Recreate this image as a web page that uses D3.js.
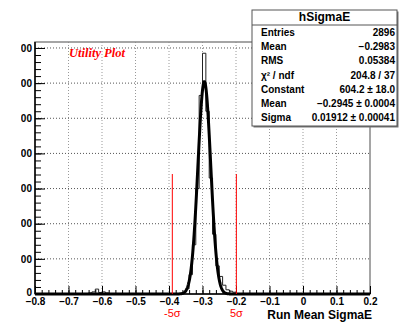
<!DOCTYPE html>
<html><head><meta charset="utf-8">
<script src="https://cdn.jsdelivr.net/npm/d3@7"></script>
<style>body{margin:0;background:#fff}svg{display:block}</style>
</head><body>
<svg id="c" width="399" height="322"></svg>
<script>
// ---- data ----
const binEdgesLow = [-0.64,-0.63,-0.62,-0.61,-0.60,-0.59,
  -0.37,-0.36,-0.35,-0.34,-0.33,-0.32,-0.31,-0.30,-0.29,-0.28,-0.27,-0.26,-0.25,-0.24,-0.23,-0.22,-0.21];
const binCounts = [3,6,14,4,6,3,
  1,4,15,55,140,300,565,685,520,330,170,80,50,25,12,8,5];
const binWidth = 0.01;
const fitConstant = 604.2, fitMean = -0.2945, fitSigma = 0.01912;
const xTicks = [-0.8,-0.7,-0.6,-0.5,-0.4,-0.3,-0.2,-0.1,0,0.1,0.2];
const xTickLabels = ["\u22120.8","\u22120.7","\u22120.6","\u22120.5","\u22120.4","\u22120.3","\u22120.2","\u22120.1","0","0.1","0.2"];
const yTicks = [0,100,200,300,400,500,600,700];
const yTickLabels = ["0","100","200","300","400","500","600","700"];
const sigmaLines = [fitMean - 5*fitSigma, fitMean + 5*fitSigma];
const sigmaLabels = ["-5\u03c3","5\u03c3"];
const statsTitle = "hSigmaE";
const statsNames = ["Entries","Mean","RMS","\u03c7\u00b2 / ndf","Constant","Mean","Sigma"];
const statsValues = ["2896","\u22120.2983","0.05384","204.8 / 37","604.2 \u00b1 18.0","\u22120.2945 \u00b1 0.0004","0.01912 \u00b1 0.00041"];

// ---- layout ----
const L=35,R=370,T=42,B=294;
const svg=d3.select("#c");
const x=d3.scaleLinear().domain([-0.8,0.2]).range([L,R]);
const y=d3.scaleLinear().domain([0,717]).range([B,T]);
const sans="'Liberation Sans',Arial,Helvetica,sans-serif";

// grid
const g=svg.append("g");
g.selectAll(".vg").data(xTicks.slice(1,-1)).join("line")
  .attr("x1",d=>x(d)).attr("x2",d=>x(d)).attr("y1",T).attr("y2",B)
  .attr("stroke","#999").attr("stroke-dasharray","1,2").attr("stroke-width",1);
g.selectAll(".hg").data(yTicks.slice(1)).join("line")
  .attr("x1",L).attr("x2",R).attr("y1",d=>y(d)).attr("y2",d=>y(d))
  .attr("stroke","#555").attr("stroke-dasharray","1,2").attr("stroke-width",1);

// frame
svg.append("rect").attr("x",L).attr("y",T).attr("width",R-L).attr("height",B-T)
  .attr("fill","none").attr("stroke","#888").attr("stroke-width",1.5);

// histogram step path over full range
const nb=100, bins=new Array(nb).fill(0);
binEdgesLow.forEach((e,i)=>{const k=Math.round((e+0.8)/binWidth); bins[k]=binCounts[i];});
let pts=[[x(-0.8),y(0)]];
for(let k=0;k<nb;k++){const x0=x(-0.8+k*binWidth),x1=x(-0.8+(k+1)*binWidth);pts.push([x0,y(bins[k])],[x1,y(bins[k])]);}
pts.push([x(0.2),y(0)]);
svg.append("path").attr("d",d3.line()(pts)).attr("fill","none").attr("stroke","#222").attr("stroke-width",1);

// fit curve (gaussian from fit parameters)
const fx=d3.range(-0.8,0.2001,0.001);
svg.append("path").attr("d",d3.line().x(d=>x(d)).y(d=>y(fitConstant*Math.exp(-0.5*((d-fitMean)/fitSigma)**2)))(fx))
  .attr("fill","none").attr("stroke","#000").attr("stroke-width",3);

// axes
const xMinor=d3.range(0,51).map(i=>-0.8+i*0.02);
svg.append("g").attr("transform",`translate(0,${B})`)
  .call(d3.axisBottom(x).tickValues(xMinor).tickSize(-4).tickFormat(""))
  .call(a=>a.select(".domain").remove());
svg.append("g").attr("transform",`translate(0,${B})`)
  .call(d3.axisBottom(x).tickValues(xTicks).tickSize(-8).tickPadding(4).tickFormat((d,i)=>xTickLabels[i]))
  .call(a=>a.select(".domain").remove())
  .call(a=>a.selectAll("text").attr("font-family",sans).attr("font-weight","bold").attr("font-size","10px").attr("fill","#000"));
const yMinor=d3.range(0,36).map(i=>i*20);
svg.append("g").attr("transform",`translate(${L},0)`)
  .call(d3.axisLeft(y).tickValues(yMinor).tickSize(-6).tickFormat(""))
  .call(a=>a.select(".domain").remove());
svg.append("defs").append("clipPath").attr("id","yc").append("rect").attr("x",-14).attr("y",0).attr("width",60).attr("height",322);
svg.append("g").attr("transform",`translate(${L},0)`).attr("clip-path","url(#yc)")
  .call(d3.axisLeft(y).tickValues(yTicks).tickSize(-10).tickPadding(3).tickFormat((d,i)=>yTickLabels[i]))
  .call(a=>a.select(".domain").remove())
  .call(a=>a.selectAll("text").attr("font-family",sans).attr("font-weight","bold").attr("font-size","10px").attr("fill","#000")
    .attr("dy",(d)=>d===0?"0.1em":"0.32em"));
svg.append("line").attr("x1",L).attr("x2",L).attr("y1",T).attr("y2",B).attr("stroke","#000").attr("stroke-width",1.5);
svg.append("line").attr("x1",L).attr("x2",R).attr("y1",B).attr("y2",B).attr("stroke","#000").attr("stroke-width",1.5);

// sigma lines
svg.selectAll(".sl").data(sigmaLines).join("line")
  .attr("x1",d=>x(d)).attr("x2",d=>x(d)).attr("y1",174).attr("y2",B).attr("stroke","#f00").attr("stroke-width",1);
svg.selectAll(".st").data(sigmaLines).join("text")
  .attr("x",d=>x(d)).attr("y",317).attr("text-anchor","middle").attr("fill","#f00")
  .attr("font-family",sans).attr("font-size","11px").text((d,i)=>sigmaLabels[i]);

// axis title
svg.append("text").attr("x",372).attr("y",319).attr("text-anchor","end")
  .attr("font-family",sans).attr("font-weight","bold").attr("font-size","12px").text("Run Mean SigmaE");

// utility plot label
svg.append("text").attr("x",69).attr("y",57).attr("fill","#f00")
  .attr("font-family","'Liberation Serif','Times New Roman',serif").attr("font-style","italic").attr("font-weight","bold")
  .attr("font-size","12.5px").text("Utility Plot");

// stats box
const bx=252,by=10,bw=145,bh=116;
svg.append("rect").attr("x",bx+1.5).attr("y",by+1.5).attr("width",bw).attr("height",bh).attr("fill","#777");
svg.append("rect").attr("x",bx).attr("y",by).attr("width",bw).attr("height",bh).attr("fill","#fff").attr("stroke","#555").attr("stroke-width",1);
svg.append("line").attr("x1",bx).attr("x2",bx+bw).attr("y1",25).attr("y2",25).attr("stroke","#555");
svg.append("text").attr("x",bx+bw/2).attr("y",21).attr("text-anchor","middle")
  .attr("font-family",sans).attr("font-weight","bold").attr("font-size","12px").text(statsTitle);
svg.selectAll(".sn").data(statsNames).join("text")
  .attr("x",261).attr("y",(d,i)=>36+i*14.2).attr("font-family",sans).attr("font-weight","bold").attr("font-size","10px").text(d=>d);
svg.selectAll(".sv").data(statsValues).join("text")
  .attr("x",395).attr("y",(d,i)=>36+i*14.2).attr("text-anchor","end").attr("font-family",sans).attr("font-weight","bold").attr("font-size","10px").text(d=>d);
</script>
</body></html>
